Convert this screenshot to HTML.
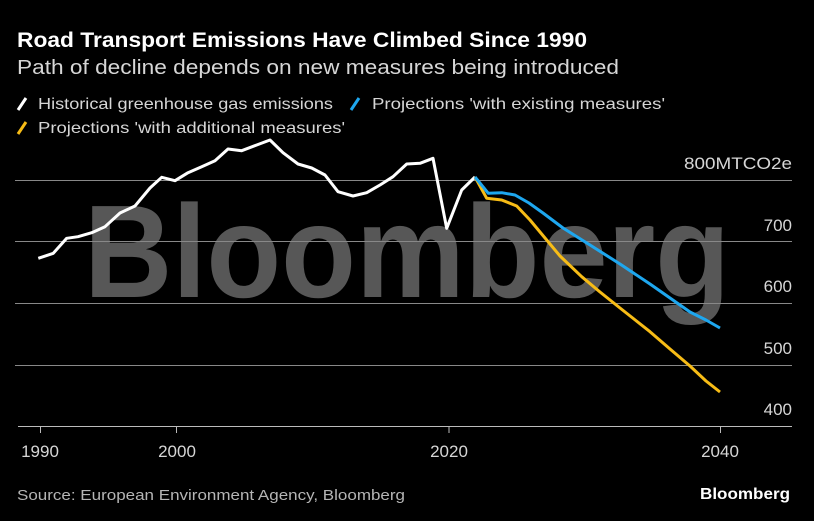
<!DOCTYPE html>
<html><head><meta charset="utf-8"><style>
html,body{margin:0;padding:0;background:#000;}
svg{display:block;}
text{font-family:"Liberation Sans",Arial,sans-serif;}
</style></head><body>
<svg width="814" height="521" viewBox="0 0 814 521" xmlns="http://www.w3.org/2000/svg">
<rect width="814" height="521" fill="#000"/>
<text x="17" y="47" fill="#fff" font-size="21" font-weight="bold" textLength="570" lengthAdjust="spacingAndGlyphs">Road Transport Emissions Have Climbed Since 1990</text>
<text x="17" y="74" fill="#d6d6d6" font-size="20" textLength="602" lengthAdjust="spacingAndGlyphs">Path of decline depends on new measures being introduced</text>
<line x1="18" y1="110" x2="26" y2="98" stroke="#fff" stroke-width="3"/>
<text x="38" y="109" fill="#d6d6d6" font-size="16" textLength="295" lengthAdjust="spacingAndGlyphs">Historical greenhouse gas emissions</text>
<line x1="351" y1="110" x2="359" y2="98" stroke="#1ea7ef" stroke-width="3"/>
<text x="372" y="109" fill="#d6d6d6" font-size="16" textLength="293" lengthAdjust="spacingAndGlyphs">Projections 'with existing measures'</text>
<line x1="18" y1="134" x2="26" y2="122" stroke="#f7bc16" stroke-width="3"/>
<text x="38" y="133" fill="#d6d6d6" font-size="16" textLength="307" lengthAdjust="spacingAndGlyphs">Projections 'with additional measures'</text>

<text x="84" y="297" fill="#575757" font-size="132" font-weight="bold" textLength="646" lengthAdjust="spacingAndGlyphs">Bloomberg</text>

<g stroke="#888" stroke-width="1">
<line x1="15" y1="180.5" x2="792" y2="180.5"/>
<line x1="15" y1="241.5" x2="792" y2="241.5"/>
<line x1="15" y1="303.5" x2="792" y2="303.5"/>
<line x1="15" y1="365.5" x2="792" y2="365.5"/>
</g>
<line x1="18" y1="426.5" x2="792" y2="426.5" stroke="#bbb" stroke-width="1"/>
<g stroke="#bbb" stroke-width="1">
<line x1="40.5" y1="426" x2="40.5" y2="433"/>
<line x1="176.5" y1="426" x2="176.5" y2="433"/>
<line x1="449" y1="426" x2="449" y2="433"/>
<line x1="720.5" y1="426" x2="720.5" y2="433"/>
</g>
<g fill="#d6d6d6" font-size="17" text-anchor="end">
<text x="792" y="169" textLength="108" lengthAdjust="spacingAndGlyphs">800MTCO2e</text>
<text x="792" y="231">700</text>
<text x="792" y="292">600</text>
<text x="792" y="354">500</text>
<text x="792" y="415">400</text>
</g>
<g fill="#d6d6d6" font-size="17" text-anchor="middle">
<text x="40" y="457">1990</text>
<text x="177" y="457">2000</text>
<text x="449" y="457">2020</text>
<text x="720" y="457">2040</text>
</g>

<polyline fill="none" stroke="#fff" stroke-width="3" stroke-linejoin="round" points="38.3,258.3 53.3,253.3 66.7,238.3 78,236.7 91.7,232.7 105,226.7 120,213 135,206 150,188 161.7,177.3 175,180.7 188,172.7 201.7,166.7 215,160.7 228,149 241.7,150.7 256.7,145 270,140 283,152.7 298,164 311.7,168 325,175 338,191.7 353,196 366.7,192.7 380,185 393,176.7 406.7,164 420,163.3 433,158.3 446.7,228.3 461.7,190 475,177"/>
<polyline fill="none" stroke="#f7bc16" stroke-width="3" stroke-linejoin="round" points="475,177 486.7,198.3 501.7,200 516.7,206 530,220 545,238 560,256 581.7,276.7 600,292 620,308 650,331.7 670,349 690,366 706,381 720,392"/>
<polyline fill="none" stroke="#1ea7ef" stroke-width="3" stroke-linejoin="round" points="475,177 488.3,193.3 501.7,192.7 515,195 529,203 543,213 563,228 590,245 620,264 650,284 670,298 690,312 706,320 720,328"/>

<text x="17" y="500" fill="#b5b5b5" font-size="15" textLength="388" lengthAdjust="spacingAndGlyphs">Source: European Environment Agency, Bloomberg</text>
<text x="790" y="499" fill="#fff" font-size="16" font-weight="bold" text-anchor="end" textLength="90" lengthAdjust="spacingAndGlyphs">Bloomberg</text>
</svg>
</body></html>
